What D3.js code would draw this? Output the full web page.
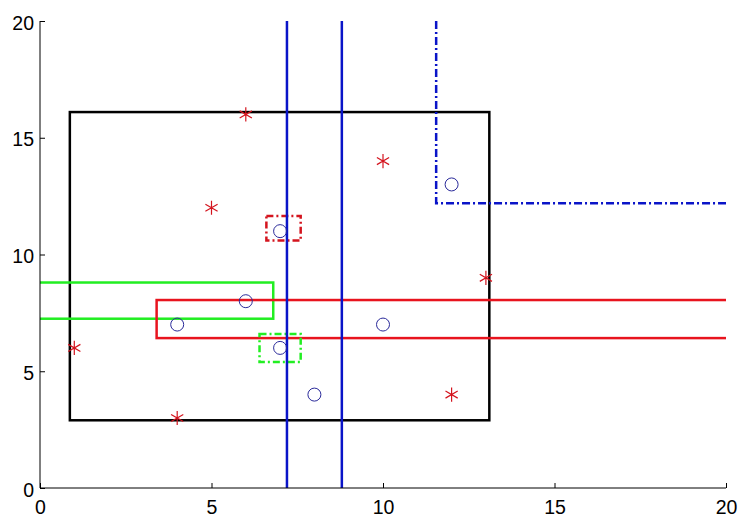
<!DOCTYPE html>
<html>
<head>
<meta charset="utf-8">
<script src="https://cdn.jsdelivr.net/npm/d3@7"></script>
<style>
  body { margin: 0; background: #fff; }
  svg { display: block; font-family: "Liberation Sans", Arial, sans-serif; }
</style>
</head>
<body>
<svg></svg>
<script>
// Data
const ticks = [0, 5, 10, 15, 20]
const circles = [[7, 11], [12, 13], [6, 8], [4, 7], [7, 6], [10, 7], [8, 4]]
const stars = [[6, 16], [5, 12], [10, 14], [13, 9], [1, 6], [4, 3], [12, 4]]
// rectangles: [x0, x1, y0, y1]
const blackBox = [0.87, 13.1, 2.9, 16.1]
const greenBox = [-1, 6.8, 7.25, 8.8]
const redBox = [3.4, 21, 6.42, 8.05]
const redSmall = [6.6, 7.6, 10.6, 11.65]
const greenSmall = [6.4, 7.6, 5.4, 6.6]
const blueLines = [7.2, 8.8]
const blueCorner = [[11.55, 20], [11.55, 12.2], [20, 12.2]]

const width = 742
const height = 522
const margin = { top: 21, right: 16, bottom: 34, left: 40 }

const svg = d3.select("svg")
    .attr("width", width)
    .attr("height", height)

const innerWidth = width - margin.left - margin.right
const innerHeight = height - margin.top - margin.bottom

const x = d3.scaleLinear().domain([0, 20]).range([0, innerWidth])
const y = d3.scaleLinear().domain([0, 20]).range([innerHeight, 0])

const g = svg.append("g")
    .attr("transform", `translate(${margin.left}, ${margin.top})`)

svg.append("defs").append("clipPath").attr("id", "clip")
    .append("rect")
    .attr("x", 0).attr("y", 0)
    .attr("width", innerWidth).attr("height", innerHeight)

const plot = g.append("g").attr("clip-path", "url(#clip)")

const rect = (b, color, dash, w) => {
    plot.append("rect")
        .attr("x", x(b[0]))
        .attr("y", y(b[3]))
        .attr("width", x(b[1]) - x(b[0]))
        .attr("height", y(b[2]) - y(b[3]))
        .attr("fill", "none")
        .attr("stroke", color)
        .attr("stroke-width", w)
        .attr("stroke-dasharray", dash)
}

rect(blackBox, "#000", null, 2.5)
rect(greenBox, "#22ee22", null, 2.5)
rect(redBox, "#e8141e", null, 2.5)
rect(redSmall, "#d4141e", "7,3,2,3", 2.5)
rect(greenSmall, "#22ee22", "7,3,2,3", 2.5)

blueLines.forEach(v => {
    plot.append("line")
        .attr("x1", x(v)).attr("x2", x(v))
        .attr("y1", y(20)).attr("y2", y(0))
        .attr("stroke", "#0a14c8")
        .attr("stroke-width", 2.5)
})

plot.append("path")
    .attr("d", d3.line().x(d => x(d[0])).y(d => y(d[1]))(blueCorner))
    .attr("fill", "none")
    .attr("stroke", "#0a14c8")
    .attr("stroke-width", 2.5)
    .attr("stroke-dasharray", "8,3,2,3")

// markers
g.selectAll("circle.pt").data(circles)
    .enter().append("circle")
    .attr("class", "pt")
    .attr("cx", d => x(d[0]))
    .attr("cy", d => y(d[1]))
    .attr("r", 6.5)
    .attr("fill", "none")
    .attr("stroke", "#2a2a9a")
    .attr("stroke-width", 1)

const star = d3.symbol().type(d3.symbolAsterisk).size(140)
g.selectAll("path.star").data(stars)
    .enter().append("path")
    .attr("class", "star")
    .attr("transform", d => `translate(${x(d[0])}, ${y(d[1])})`)
    .attr("d", star)
    .attr("fill", "none")
    .attr("stroke", "#d4141e")
    .attr("stroke-width", 1.2)

// axes, MATLAB style with inward ticks and no box
const xAxis = d3.axisBottom(x).tickValues(ticks).tickSize(-5).tickPadding(12)
const yAxis = d3.axisLeft(y).tickValues(ticks).tickSize(-5).tickPadding(6)

const xAxisG = g.append("g")
    .attr("transform", `translate(0, ${innerHeight})`)
    .call(xAxis)
const yAxisG = g.append("g").call(yAxis)

;[xAxisG, yAxisG].forEach(a => {
    a.select(".domain").attr("stroke", "#000").attr("stroke-width", 1)
        .attr("d", a === xAxisG ? `M0,0H${innerWidth}` : `M0,${innerHeight}V0`)
    a.selectAll(".tick line").attr("stroke", "#000")
    a.selectAll("text")
        .attr("font-size", "19.5px")
        .attr("fill", "#000")
        .attr("font-family", "Liberation Sans, Arial, sans-serif")
})
yAxisG.selectAll("text").attr("dy", "0.42em")
</script>
</body>
</html>
